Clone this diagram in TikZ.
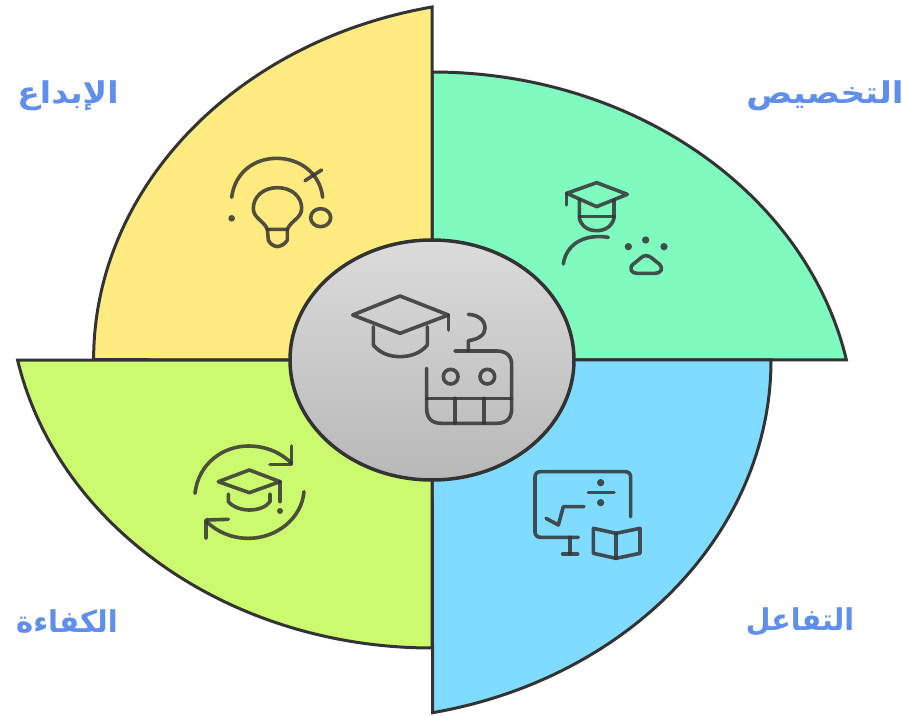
\documentclass[tikz,border=0pt]{standalone}
\usepackage{fontspec}
\TeXXeTstate=1
\newfontfamily\arabicfont[Script=Arabic]{DejaVu Sans}
\definecolor{edgeC}{HTML}{333333}
\definecolor{iconC}{HTML}{333333}
\definecolor{labelC}{HTML}{5F8FEA}
\definecolor{yellowC}{HTML}{FFEB80}
\definecolor{greenC}{HTML}{80FBC0}
\definecolor{blueC}{HTML}{7FDBFF}
\definecolor{limeC}{HTML}{CCFA6E}
\tikzset{
  petal/.style={draw=edgeC,line width=3pt,line join=miter,miter limit=10},
  ico/.style={draw=iconC,draw opacity=.85,line width=3.6pt,line cap=round,line join=round,fill=none},
  icodot/.style={fill=iconC,fill opacity=.85,draw=none},
  lab/.style={text=labelC,font=\arabicfont\bfseries\fontsize{30}{30}\selectfont,inner sep=0pt,transform shape},
  zm/.style={x=0.33333pt,y=-0.33333pt}
}
\begin{document}
\begin{tikzpicture}[x=1pt,y=1pt]
\useasboundingbox (0,0) rectangle (902,715);
\fill[white] (0,0) rectangle (902,715);
\coordinate (C) at (432,355);
% petals
\draw[petal,fill=greenC] (C) -- (432,643) arc[start angle=90,end angle=11.54,x radius=423,y radius=360] -- cycle;
\draw[petal,fill=yellowC] (C) -- (432,708) arc[start angle=101.54,end angle=180,x radius=423,y radius=360] -- cycle;
\draw[petal,fill=blueC] (C) -- (771,355) arc[start angle=0,end angle=-78.46,x radius=423,y radius=360] -- cycle;
\draw[petal,fill=limeC] (C) -- (432,67) arc[start angle=270,end angle=191.54,x radius=423,y radius=360] -- cycle;
% hub
\draw[draw=edgeC,line width=3.5pt,top color=black!14,bottom color=black!28] (C) ellipse[x radius=142,y radius=120];
% bulb icon
\begin{scope}[shift={(180,575)},zm]
\draw[ico] (155,172) .. controls (165,95) and (225,55) .. (290,55) .. controls (360,55) and (420,100) .. (428,172);
\draw[ico] (375,122) -- (425,90);
\fill[icodot] (155,235) circle[radius=10];
\draw[ico] (422,233) circle[x radius=30,y radius=27];
\draw[ico] (262,268) .. controls (250,240) and (220,235) .. (220,205) .. controls (220,170) and (250,143) .. (292,143) .. controls (335,143) and (365,170) .. (365,205) .. controls (365,235) and (334,240) .. (322,268) -- cycle;
\draw[ico] (262,268) -- (265,300) .. controls (270,312) and (280,318) .. (292,320) .. controls (305,318) and (315,312) .. (322,300) -- (322,268);
\end{scope}
% graduate icon
\begin{scope}[shift={(530,555)},zm]
\draw[ico] (110,100) -- (200,68) -- (292,103) -- (200,140) -- cycle;
\draw[ico] (110,100) -- (110,135);
\draw[ico] (148,120) -- (148,175) .. controls (155,200) and (175,212) .. (200,212) .. controls (225,212) and (245,200) .. (252,175) -- (252,120);
\draw[ico] (148,170) -- (252,170);
\draw[ico] (235,232) .. controls (160,220) and (108,255) .. (100,312);
\fill[icodot] (295,260) circle[radius=11];
\fill[icodot] (347,240) circle[radius=11];
\fill[icodot] (402,260) circle[radius=11];
\draw[ico] (348,287) .. controls (335,287) and (330,298) .. (310,312) .. controls (295,325) and (305,340) .. (320,340) -- (376,340) .. controls (392,340) and (402,325) .. (388,312) .. controls (368,298) and (362,287) .. (348,287) -- cycle;
\end{scope}
% hub icon
\begin{scope}[shift={(330,435)},zm]
\draw[ico] (68,105) -- (210,48) -- (355,105) -- (210,160) -- cycle;
\draw[ico] (355,105) -- (355,150);
\draw[ico] (130,140) -- (130,195) .. controls (150,220) and (180,230) .. (210,230) .. controls (240,230) and (272,220) .. (292,195) -- (292,140);
\draw[ico] (375,213) -- (500,213) .. controls (530,213) and (545,228) .. (545,255) -- (545,385) .. controls (545,415) and (530,430) .. (500,430) -- (335,430) .. controls (305,430) and (290,415) .. (290,385) -- (290,265);
\draw[ico] (290,355) -- (545,355);
\draw[ico] (375,355) -- (375,430);
\draw[ico] (462,355) -- (462,430);
\draw[ico] (362,290) circle[radius=22];
\draw[ico] (472,290) circle[radius=22];
\draw[ico] (415,213) -- (415,182) .. controls (445,178) and (465,165) .. (465,145) .. controls (465,120) and (445,105) .. (415,103);
\end{scope}
% cycle icon
\begin{scope}[shift={(170,285)},zm]
\draw[ico] (75,190) .. controls (85,100) and (160,48) .. (235,48) .. controls (290,48) and (335,70) .. (365,100);
\draw[ico] (365,48) -- (365,103) -- (300,103);
\draw[ico] (402,185) .. controls (395,265) and (320,325) .. (235,325) .. controls (185,325) and (140,305) .. (110,275);
\draw[ico] (175,268) -- (108,270) -- (108,325);
\draw[ico] (145,155) -- (238,120) -- (330,155) -- (238,188) -- cycle;
\draw[ico] (330,155) -- (330,215);
\fill[icodot] (330,243) circle[radius=9];
\draw[ico] (175,192) -- (175,215) .. controls (190,232) and (215,240) .. (238,240) .. controls (262,240) and (288,232) .. (300,215) -- (300,192);
\end{scope}
% screen icon
\begin{scope}[shift={(510,265)},zm]
\draw[ico] (362,200) -- (362,82) .. controls (362,70) and (355,65) .. (345,65) -- (92,65) .. controls (82,65) and (75,70) .. (75,82) -- (75,245) .. controls (75,256) and (82,262) .. (92,262) -- (205,262);
\draw[ico] (180,262) -- (180,312);
\draw[ico] (158,312) -- (203,312);
\draw[ico] (235,128) -- (312,128);
\fill[icodot] (272,98) circle[radius=11];
\fill[icodot] (272,158) circle[radius=11];
\draw[ico] (108,205) -- (145,225) -- (160,170) -- (222,170);
\draw[ico] (250,235) -- (318,250) -- (390,235) -- (390,310) -- (318,325) -- (250,310) -- cycle;
\draw[ico] (318,250) -- (318,325);
\end{scope}
% labels
\node[lab,xscale=1.1] (ibdaa) at (68,619) {\beginR الإبداع\endR};
\node[lab,xscale=1.14] (takhsis) at (825,619) {\beginR التخصيص\endR};
\node[lab,xscale=.97] (kafaa) at (67,93) {\beginR الكفاءة\endR};
\node[lab,xscale=.95] (tafaul) at (800,93) {\beginR التفاعل\endR};
\end{tikzpicture}
\end{document}
